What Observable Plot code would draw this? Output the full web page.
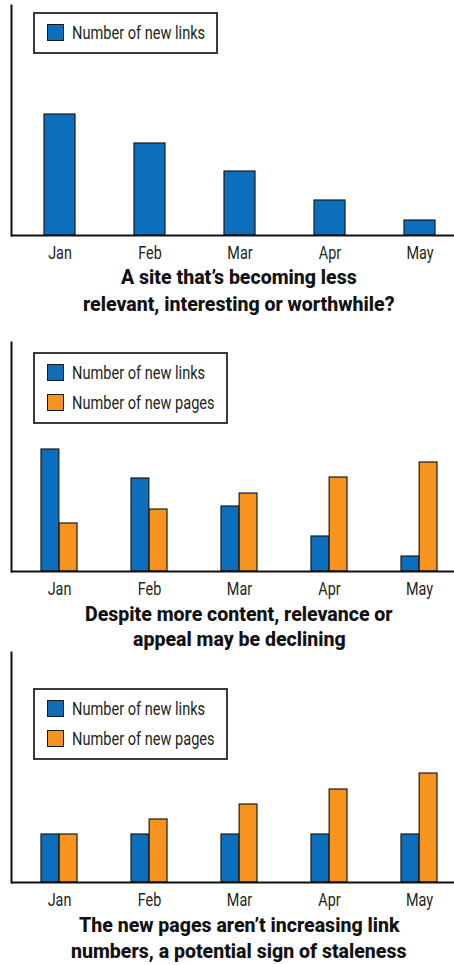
<!DOCTYPE html>
<html>
<head>
<meta charset="utf-8">
<script src="https://cdn.jsdelivr.net/npm/d3@7"></script>
<script src="https://cdn.jsdelivr.net/npm/@observablehq/plot@0.6"></script>
<style>
  html, body { margin: 0; padding: 0; background: #fff; }
  body { width: 454px; height: 965px; overflow: hidden; }
  #wrap { position: relative; width: 454px; height: 965px;
    font-family: Roboto, "Liberation Sans", sans-serif; color: #231f20; }
  .panel { position: absolute; left: 0; width: 454px; }
  .panel svg { position: relative; z-index: 1; }
  .legend { position: absolute; left: 33px; z-index: 2; border: 2px solid #3a3a3a; box-sizing: border-box;
    padding: 10px 11px 11px 12px; background: #fff; font-size: 18px; }
  .legend .row { display: flex; align-items: center; height: 17px; white-space: nowrap; }
  .legend .row + .row { margin-top: 13px; }
  .legend .sw { width: 15px; height: 15px; border: 1px solid #1a1a1a; margin-right: 8px; flex: none; }
  .legend .txt { display: inline-block; white-space: nowrap; transform-origin: left center; }
  .caption { position: absolute; left: 24px; width: 430px; z-index: 0; text-align: center; font-weight: 800;
    font-size: 21px; color: #111; }
  .caption .line { white-space: nowrap; }
  .caption .line span { display: inline-block; white-space: nowrap; transform-origin: left center; }
</style>
</head>
<body>
<div id="wrap"></div>
<script>
// ---- data ----
const months = ["Jan", "Feb", "Mar", "Apr", "May"];
const links1 = [121, 92, 64, 35, 15];
const links2 = [122, 93, 65, 35, 15];
const pages2 = [48, 62, 78, 94, 109];
const links3 = [48, 48, 48, 48, 48];
const pages3 = [48, 63, 78, 93, 109];
const seriesNames = ["Number of new links", "Number of new pages"];
const captions1 = ["A site that’s becoming less", "relevant, interesting or worthwhile?"];
const captions2 = ["Despite more content, relevance or", "appeal may be declining"];
const captions3 = ["The new pages aren’t increasing link", "numbers, a potential sign of staleness"];

// ---- styles / layout ----
const BLUE = "#0b6fbe", ORANGE = "#f7941e", OUTLINE = "#1a1a1a";
const NARROW = 0.81, NARROW_BOLD = 0.93, NARROW_TICK = 0.8;
const layouts = [
  {top: 0,   plotH: 230, legendTop: 12, capTop: 264, capLH: 27},
  {top: 337, plotH: 229, legendTop: 15, capTop: 265, capLH: 25},
  {top: 647, plotH: 230, legendTop: 41, capTop: 265, capLH: 26}
];

const panels = [
  {links: links1, pages: null, captions: captions1},
  {links: links2, pages: pages2, captions: captions2},
  {links: links3, pages: pages3, captions: captions3}
];

function condense(el, f) {
  const w = el.getBoundingClientRect().width;
  el.style.width = (w * f) + "px";
  el.style.transform = `scaleX(${f})`;
}

const wrap = document.getElementById("wrap");

panels.forEach((p, i) => {
  const L = layouts[i];
  const data = months.map((m, j) => ({month: m, links: p.links[j], pages: p.pages ? p.pages[j] : null}));
  const grouped = !!p.pages;
  const W = 454, rangeL = 12, rangeR = 466;
  const padIn = grouped ? 0.6 : 0.66, padOut = padIn / 2;
  const step = (rangeR - rangeL) / (months.length - padIn + 2 * padOut);
  const bw = step * (1 - padIn);

  const marks = [];
  marks.push(Plot.barY(data, {x: "month", y: "links", fill: BLUE, stroke: OUTLINE, strokeWidth: 1.2,
    insetRight: grouped ? bw / 2 : 0}));
  if (grouped) {
    marks.push(Plot.barY(data, {x: "month", y: "pages", fill: ORANGE, stroke: OUTLINE, strokeWidth: 1.2,
      insetLeft: bw / 2}));
  }
  marks.push(Plot.axisX({tickSize: 0, tickPadding: 11, fontSize: 18, fill: "#231f20", label: null}));
  marks.push(Plot.ruleY([0], {stroke: "#111", strokeWidth: 2}));
  marks.push(Plot.frame({anchor: "left", stroke: "#111", strokeWidth: 2}));

  const chart = Plot.plot({
    width: W,
    height: 5 + L.plotH + 30,
    marginTop: 5, marginBottom: 30, marginLeft: 11, marginRight: 0,
    style: {fontFamily: "Roboto, 'Liberation Sans', sans-serif", fontSize: "18px", background: "transparent", overflow: "visible"},
    x: {domain: months, range: [rangeL, rangeR], paddingInner: padIn, paddingOuter: padOut, axis: null},
    y: {domain: [0, L.plotH], axis: null},
    marks
  });

  const panel = document.createElement("div");
  panel.className = "panel";
  panel.style.top = L.top + "px";
  panel.appendChild(chart);

  const legend = document.createElement("div");
  legend.className = "legend";
  legend.style.top = L.legendTop + "px";
  const items = grouped ? [[seriesNames[0], BLUE], [seriesNames[1], ORANGE]] : [[seriesNames[0], BLUE]];
  items.forEach(([name, color]) => {
    const row = document.createElement("div");
    row.className = "row";
    const sw = document.createElement("span");
    sw.className = "sw";
    sw.style.background = color;
    const t = document.createElement("span");
    t.className = "txt";
    t.textContent = name;
    row.appendChild(sw); row.appendChild(t);
    legend.appendChild(row);
  });
  panel.appendChild(legend);

  const cap = document.createElement("div");
  cap.className = "caption";
  cap.style.top = L.capTop + "px";
  cap.style.lineHeight = L.capLH + "px";
  p.captions.forEach(s => {
    const line = document.createElement("div");
    line.className = "line";
    const sp = document.createElement("span");
    sp.textContent = s;
    line.appendChild(sp);
    cap.appendChild(line);
  });
  panel.appendChild(cap);

  wrap.appendChild(panel);

  // condense texts to mimic a narrow typeface
  legend.querySelectorAll(".txt").forEach(el => condense(el, NARROW));
  cap.querySelectorAll(".line span").forEach(el => condense(el, NARROW_BOLD));
  chart.querySelectorAll('g[aria-label="x-axis tick label"] text').forEach(t => {
    const len = t.getComputedTextLength();
    t.setAttribute("textLength", len * NARROW_TICK);
    t.setAttribute("lengthAdjust", "spacingAndGlyphs");
  });
});
</script>
</body>
</html>
